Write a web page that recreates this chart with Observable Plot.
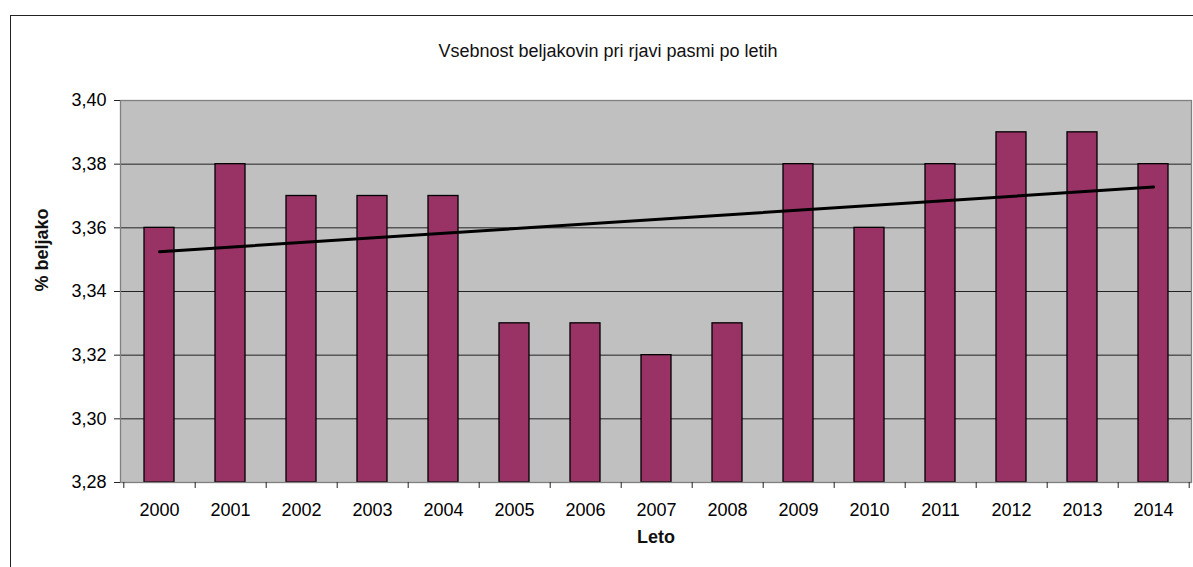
<!DOCTYPE html>
<html>
<head>
<meta charset="utf-8">
<script src="https://cdn.jsdelivr.net/npm/d3@7"></script>
<script src="https://cdn.jsdelivr.net/npm/@observablehq/plot@0.6"></script>
<style>
  html, body { margin: 0; padding: 0; background: #fff; overflow: hidden; }
  #wrap { position: relative; width: 1193px; height: 567px; overflow: hidden; }
  #outer { position: absolute; left: 10px; top: 15px; width: 1200px; height: 600px;
           border-left: 1.5px solid #222; border-top: 1.5px solid #222; box-sizing: border-box; }
  #chart { position: absolute; left: 0; top: 0; }
</style>
</head>
<body>
<div id="wrap"><div id="outer"></div><div id="chart"></div></div>
<script>
const years = ["2000","2001","2002","2003","2004","2005","2006","2007","2008","2009","2010","2011","2012","2013","2014"];
const protein = [3.36,3.38,3.37,3.37,3.37,3.33,3.33,3.32,3.33,3.38,3.36,3.38,3.39,3.39,3.38];
const yTicks = [3.28,3.30,3.32,3.34,3.36,3.38,3.40];
const trendYears = ["2000","2014"];
const trendValues = [3.3525,3.3728];
const titleText = "Vsebnost beljakovin pri rjavi pasmi po letih";
const yLabel = "% beljako";
const xLabel = "Leto";

const table = years.map((year, i) => ({year, value: protein[i]}));
const trend = trendYears.map((year, i) => ({year, value: trendValues[i]}));

const W = 1193, H = 567, mL = 120, mR = 2, mT = 100, mB = 85;
const step = (W - mL - mR) / years.length;
const yMin = yTicks[0], yMax = yTicks[yTicks.length - 1];
const tickLen = (yMax - yMin) / (H - mT - mB) * 6;
const fmt = d => d3.format(".2f")(d).replace(".", ",");

const chart = Plot.plot({
  width: W, height: H,
  marginLeft: mL, marginRight: mR, marginTop: mT, marginBottom: mB,
  style: {fontFamily: "'Liberation Sans', Arial, sans-serif", fontSize: "18px", color: "#000", background: "transparent", overflow: "visible"},
  x: {type: "band", domain: years, paddingInner: 0.58, paddingOuter: 0.29, align: 0.5},
  y: {domain: [yMin, yMax]},
  marks: [
    Plot.frame({fill: "#c0c0c0"}),
    Plot.gridY(yTicks, {stroke: "#222", strokeOpacity: 1, strokeWidth: 1}),
    Plot.barY(table, {x: "year", y1: yMin, y2: "value", fill: "#993366", stroke: "#000", strokeWidth: 1.3}),
    Plot.line(trend, {x: "year", y: "value", stroke: "#000", strokeWidth: 3}),
    Plot.frame({stroke: "#808080", strokeWidth: 1.3}),
    Plot.axisY(yTicks, {tickSize: 6, tickPadding: 8, tickFormat: fmt, label: null, fontSize: 18, stroke: "#222"}),
    Plot.axisX({tickSize: 0, tickPadding: 21, label: null, fontSize: 18}),
    Plot.ruleX(years, {x: d => d, y1: yMin, y2: yMin - tickLen, dx: step / 2, stroke: "#222", clip: false}),
    Plot.ruleX(years.slice(0, 1), {x: d => d, y1: yMin, y2: yMin - tickLen, dx: -step / 2, stroke: "#222", clip: false}),
    Plot.text([titleText], {frameAnchor: "top", dy: -56, dx: -48, fontSize: 18, fill: "#111"}),
    Plot.text([yLabel], {frameAnchor: "left", dx: -78, rotate: -90, fontSize: 18, fontWeight: "bold", fill: "#111"}),
    Plot.text([xLabel], {frameAnchor: "bottom", dy: 60, fontSize: 18, fontWeight: "bold", fill: "#111"})
  ]
});
document.getElementById("chart").appendChild(chart);
</script>
</body>
</html>
